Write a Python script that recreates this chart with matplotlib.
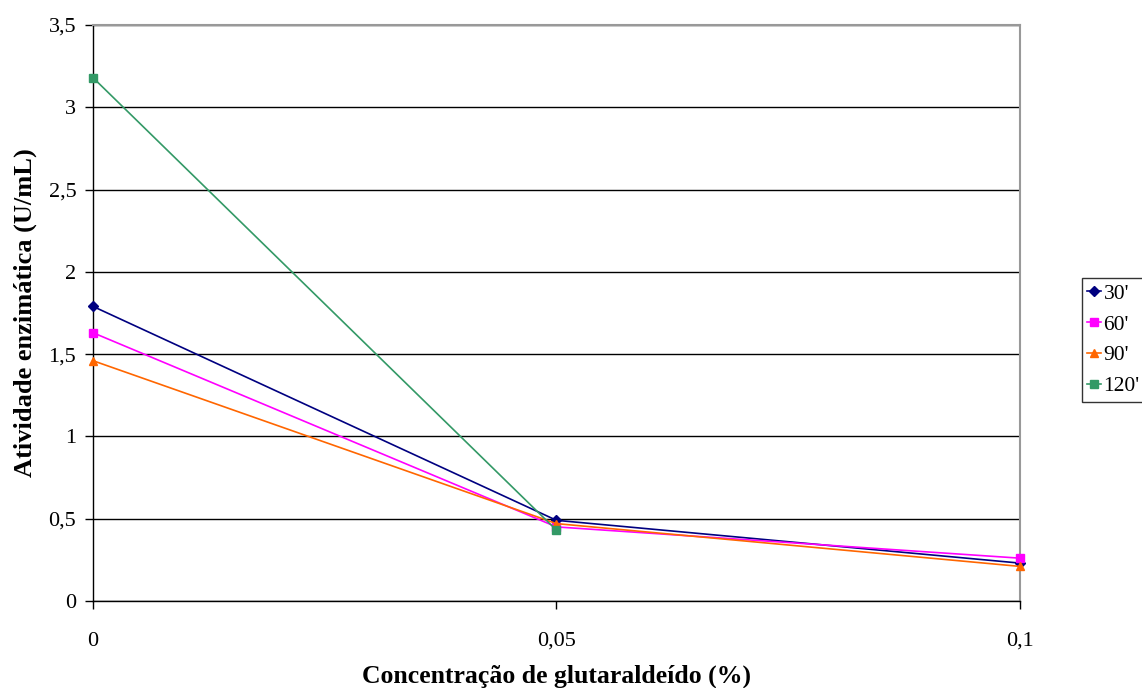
import matplotlib
matplotlib.use("Agg")
import matplotlib.pyplot as plt
from matplotlib.ticker import FuncFormatter

plt.rcParams["font.family"] = ["Liberation Serif", "DejaVu Serif"]

# Dados
concentracao = [0, 0.05, 0.1]
ativ_30 = [1.79, 0.49, 0.23]
ativ_60 = [1.63, 0.45, 0.26]
ativ_90 = [1.46, 0.47, 0.21]
conc_120 = [0, 0.05]
ativ_120 = [3.18, 0.43]

series = [
    ("30'", concentracao, ativ_30, "#000080", "D", 5),
    ("60'", concentracao, ativ_60, "#ff00ff", "s", 6),
    ("90'", concentracao, ativ_90, "#ff6600", "^", 6),
    ("120'", conc_120, ativ_120, "#339966", "s", 6),
]


def virgula(v, pos):
    return f"{v:g}".replace(".", ",")


fig = plt.figure(figsize=(11.42, 6.88), dpi=100)
ax = fig.add_axes([0.0814, 0.1265, 0.8118, 0.8372])

for nome, xs, ys, cor, mk, ms in series:
    ax.plot(xs, ys, color=cor, marker=mk, markersize=ms, lw=1.2, label=nome,
            zorder=3, clip_on=False)

ax.set_xlim(0, 0.1)
ax.set_ylim(0, 3.5)
ax.set_xticks([0, 0.05, 0.1])
ax.set_yticks([0, 0.5, 1, 1.5, 2, 2.5, 3, 3.5])
ax.xaxis.set_major_formatter(FuncFormatter(virgula))
ax.yaxis.set_major_formatter(FuncFormatter(virgula))
ax.yaxis.grid(True, color="black", lw=1)
ax.set_axisbelow(True)

for lado in ("top", "right"):
    ax.spines[lado].set_color("#999999")
    ax.spines[lado].set_linewidth(1.5)
for lado in ("left", "bottom"):
    ax.spines[lado].set_color("black")
    ax.spines[lado].set_linewidth(1)

ax.tick_params(direction="out", length=6, width=1, labelsize=16)
ax.tick_params(axis="x", pad=16)
ax.tick_params(axis="y", pad=6)

ax.set_xlabel("Concentração de glutaraldeído (%)", fontsize=18.5, fontweight="bold", labelpad=10)
ax.set_ylabel("Atividade enzimática (U/mL)", fontsize=19, fontweight="bold", labelpad=8)

# legenda colada na borda direita, como no original
leg = ax.legend(loc="center left", bbox_to_anchor=(1082 / 1142, 1 - 340 / 688),
                bbox_transform=fig.transFigure, fontsize=15.5,
                frameon=True, fancybox=False, edgecolor="black", handlelength=0.65,
                handletextpad=0.1, borderpad=0.25, labelspacing=0.5, borderaxespad=0)
leg.get_frame().set_linewidth(1)

fig.savefig("out.png", dpi=100)
